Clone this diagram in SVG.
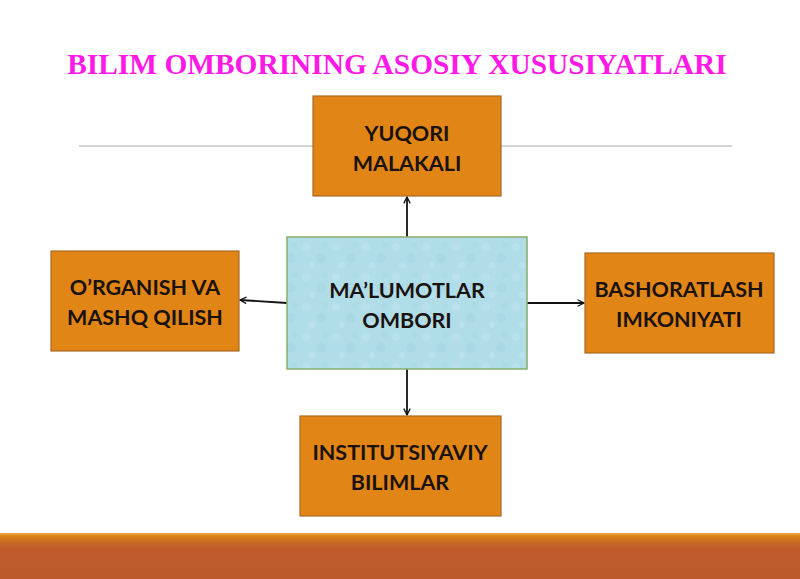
<svg xmlns="http://www.w3.org/2000/svg" width="800" height="579" viewBox="0 0 800 579">
  <defs>
    <marker id="arr" viewBox="0 0 10 10" refX="9" refY="5" markerWidth="8" markerHeight="8" markerUnits="userSpaceOnUse" orient="auto">
      <polyline points="1,1 9,5 1,9" fill="none" stroke="#111" stroke-width="1.6"/>
    </marker>
    <linearGradient id="band" x1="0" y1="0" x2="0" y2="1">
      <stop offset="0" stop-color="#f2b04a"/>
      <stop offset="0.06" stop-color="#dc8418"/>
      <stop offset="0.2" stop-color="#c46a24"/>
      <stop offset="0.35" stop-color="#bf5a2c"/>
      <stop offset="1" stop-color="#bc5a2c"/>
    </linearGradient>
    <pattern id="tex" width="30" height="30" patternUnits="userSpaceOnUse">
      <rect width="30" height="30" fill="#b0dde8"/>
      <circle cx="6" cy="7" r="4" fill="#bfe5ee" opacity="0.6"/>
      <circle cx="21" cy="18" r="5" fill="#a4d5e2" opacity="0.5"/>
      <circle cx="12" cy="25" r="3" fill="#c2e6ef" opacity="0.6"/>
      <circle cx="25" cy="5" r="3" fill="#a8d8e4" opacity="0.5"/>
    </pattern>
  </defs>
  <style>
    .box { fill: #e08516; stroke: #a96a24; stroke-width: 1.2; }
    .center { fill: url(#tex); stroke: #86ad6a; stroke-width: 1.5; }
    .lbl { font-family: Lato, "Open Sans", sans-serif; font-weight: bold; font-size: 21.5px; fill: #1a120e; text-anchor: middle; }
    .conn line { stroke: #111; stroke-width: 1.8; marker-end: url(#arr); }
  </style>
  <rect width="800" height="579" fill="#ffffff"/>
  <text x="397" y="74" font-family="'Liberation Serif', serif" font-weight="bold" font-size="29.4" fill="#ff19e6" text-anchor="middle">BILIM OMBORINING ASOSIY XUSUSIYATLARI</text>
  <line x1="79" y1="146" x2="732" y2="146" stroke="#a8a8a8" stroke-width="1"/>
  <rect x="0" y="533" width="800" height="46" fill="url(#band)"/>

  <g class="conn">
    <line x1="407" y1="237" x2="407" y2="197"/>
    <line x1="287" y1="303" x2="240" y2="300"/>
    <line x1="527" y1="303" x2="584" y2="303"/>
    <line x1="407" y1="369" x2="407" y2="415"/>
  </g>

  <g id="yuqori">
    <rect class="box" x="313" y="96" width="188" height="100"/>
    <text class="lbl" x="407" y="141">YUQORI</text>
    <text class="lbl" x="407" y="171">MALAKALI</text>
  </g>
  <g id="malumotlar">
    <rect class="center" x="287" y="237" width="240" height="132"/>
    <text class="lbl" x="407" y="298">MA’LUMOTLAR</text>
    <text class="lbl" x="407" y="328">OMBORI</text>
  </g>
  <g id="organish">
    <rect class="box" x="51" y="251" width="188" height="100"/>
    <text class="lbl" x="145" y="295">O’RGANISH VA</text>
    <text class="lbl" x="145" y="325">MASHQ QILISH</text>
  </g>
  <g id="bashoratlash">
    <rect class="box" x="585" y="253" width="189" height="100"/>
    <text class="lbl" x="679" y="297">BASHORATLASH</text>
    <text class="lbl" x="679" y="327">IMKONIYATI</text>
  </g>
  <g id="institutsiyaviy">
    <rect class="box" x="300" y="416" width="201" height="100"/>
    <text class="lbl" x="400" y="460">INSTITUTSIYAVIY</text>
    <text class="lbl" x="400" y="490">BILIMLAR</text>
  </g>
</svg>
